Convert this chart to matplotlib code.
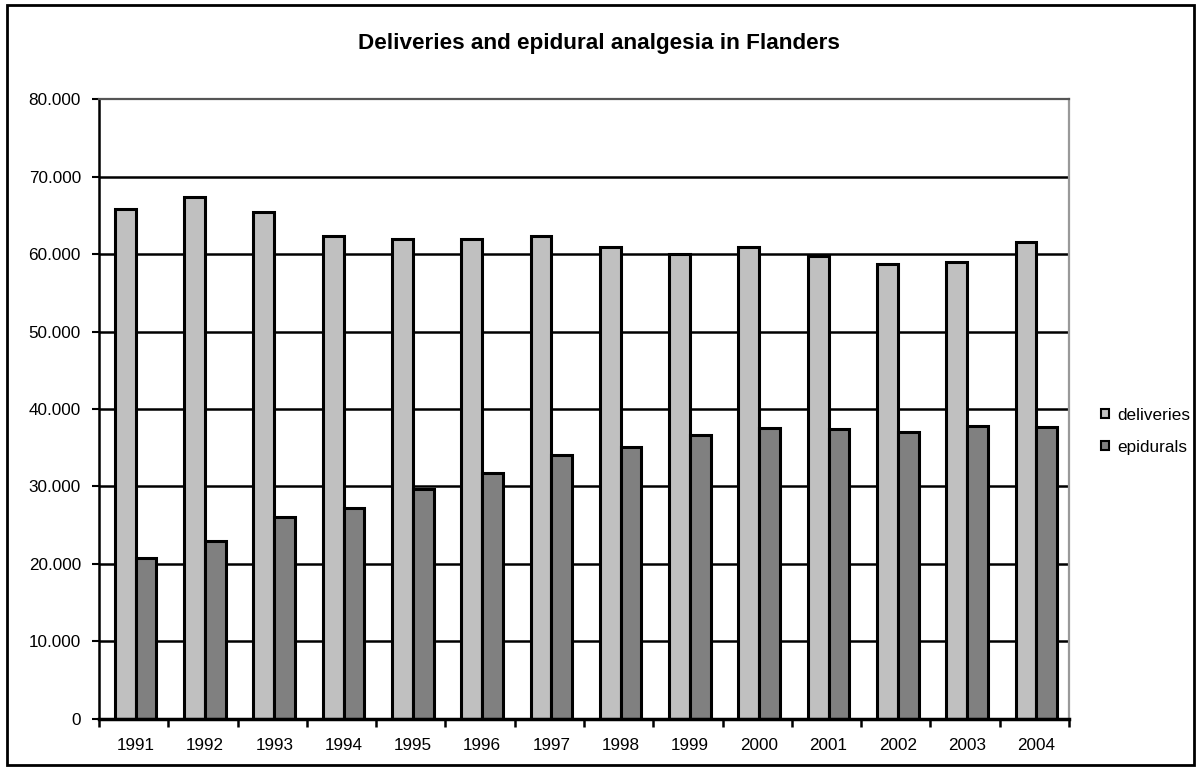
import numpy as np
import matplotlib
matplotlib.use("Agg")
import matplotlib.pyplot as plt
from matplotlib.patches import Rectangle
from matplotlib.ticker import FuncFormatter, FixedLocator

# Values
years = ["1991", "1992", "1993", "1994", "1995", "1996", "1997",
         "1998", "1999", "2000", "2001", "2002", "2003", "2004"]
deliveries = [65800, 67300, 65400, 62300, 62000, 62000, 62300,
              60900, 60000, 60900, 59700, 58700, 59000, 61600]
epidurals = [20800, 23000, 26100, 27200, 29700, 31800, 34100,
             35100, 36700, 37500, 37400, 37000, 37800, 37700]
y_ticks = [0, 10000, 20000, 30000, 40000, 50000, 60000, 70000, 80000]

plt.rcParams['font.family'] = ['Liberation Sans', 'DejaVu Sans']

fig = plt.figure(figsize=(11.98, 7.67), dpi=100)
ax = fig.add_axes([0.0826, 0.0626, 0.8097, 0.8083])

x = np.arange(len(years))
w = 0.30
off = 0.03  # bar pairs sit a little right of the category centre
ax.bar(x - w / 2 + off, deliveries, w, color="#C0C0C0", edgecolor="black",
       linewidth=2.2, label="deliveries", zorder=3)
ax.bar(x + w / 2 + off, epidurals, w, color="#808080", edgecolor="black",
       linewidth=2.2, label="epidurals", zorder=3)

ax.set_xlim(-0.5, len(years) - 0.5)
ax.set_ylim(0, 80000)

# y axis
ax.set_yticks(y_ticks)
ax.yaxis.set_major_formatter(FuncFormatter(lambda v, p: f"{int(v):,}".replace(",", ".")))
ax.tick_params(axis="y", direction="out", length=5, width=1.5, labelsize=12.3, pad=8)
for y in y_ticks[1:-1]:
    ax.axhline(y, color="black", linewidth=1.8, zorder=1)

# x axis: labels at centres, tick marks at category boundaries
ax.set_xticks(x + off)
ax.set_xticklabels(years)
ax.tick_params(axis="x", which="major", length=0, labelsize=12.3, pad=14)
ax.xaxis.set_minor_locator(FixedLocator(np.arange(-0.5, len(years), 1.0)))
ax.tick_params(axis="x", which="minor", direction="out", length=6, width=1.8)

ax.spines["left"].set_linewidth(1.8)
ax.spines["bottom"].set_linewidth(2.5)
ax.spines["bottom"].set_zorder(4)
ax.spines["top"].set_color("#555555")
ax.spines["top"].set_linewidth(1.6)
ax.spines["right"].set_color("#999999")
ax.spines["right"].set_linewidth(1.6)

fig.text(0.5, 0.943, "Deliveries and epidural analgesia in Flanders",
         ha="center", va="center", fontsize=16.2, fontweight="bold")

leg = fig.legend(loc="center left", bbox_to_anchor=(0.913, 0.438), frameon=False,
                 fontsize=12.3, handlelength=0.5, handleheight=0.5, handletextpad=0.5,
                 labelspacing=1.0, borderaxespad=0)
for h in leg.legend_handles:
    h.set_linewidth(1.5)

# outer chart border
fig.patches.append(Rectangle((0.006, 0.003), 0.991, 0.991, transform=fig.transFigure,
                             fill=False, edgecolor="black", linewidth=2))

fig.savefig("out.png", dpi=100)
